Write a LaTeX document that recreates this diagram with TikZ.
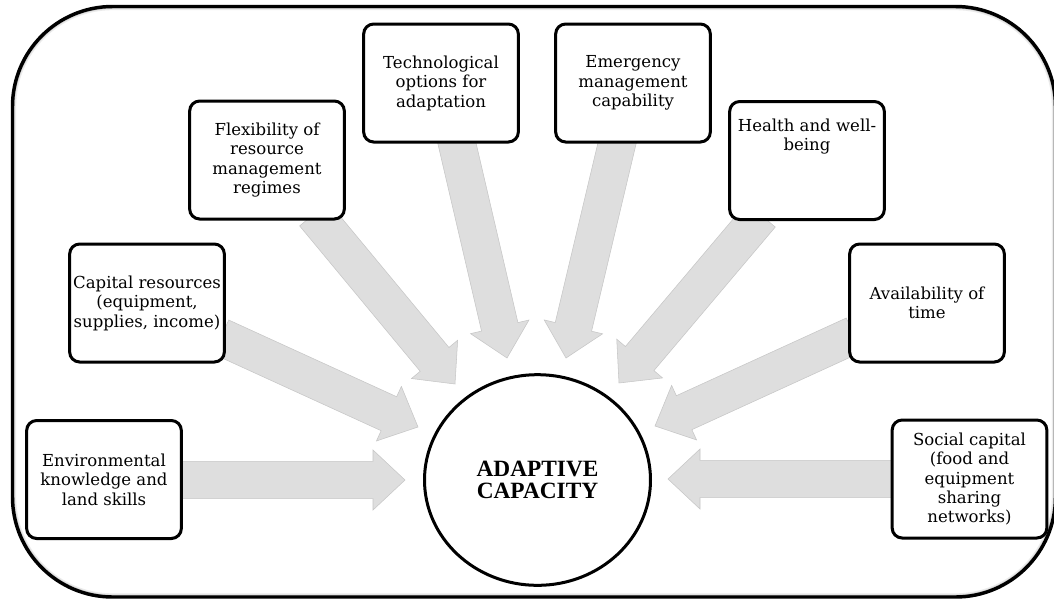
\documentclass[tikz,border=0pt]{standalone}
\usepackage{fontspec}
\setmainfont{DejaVu Serif}
\newfontfamily\titlefont{Liberation Serif}
\usetikzlibrary{calc,shapes.geometric}

\definecolor{arrowgray}{HTML}{DEDEDE}
\definecolor{arrowedge}{HTML}{C6C6C6}
\definecolor{glowgray}{HTML}{D2D2D2}

\tikzset{
  factor/.style={draw=black, line width=2.25pt, rounded corners=7.5pt, fill=white,
    minimum width=116pt, minimum height=88.5pt, align=center, inner sep=2pt,
    font=\fontsize{12.4}{14.6}\selectfont},
  factortext/.style={align=center, inner sep=0pt, font=\fontsize{12.4}{14.6}\selectfont},
  hub/.style={ellipse, draw=black, line width=2.25pt, fill=white, inner sep=0pt,
    minimum width=169.5pt, minimum height=158pt, align=center,
    font=\titlefont\bfseries\fontsize{17.5}{16.5}\selectfont},
  flowarrow/.style={fill=arrowgray, draw=arrowedge, line width=0.4pt, line join=miter},
  frame/.style={draw=black, line width=2.6pt, rounded corners=75pt, fill=white}
}

% wide block arrow from a tail point to a tip point
\newcommand\factorarrow[2]{%
  \coordinate (fa-base) at ($(#2)!24pt!(#1)$);
  \draw[flowarrow] ($(#1)!14pt!90:(#2)$) -- ($(fa-base)!14pt!90:(#2)$)
    -- ($(fa-base)!22.5pt!90:(#2)$) -- (#2) -- ($(fa-base)!22.5pt!-90:(#2)$)
    -- ($(fa-base)!14pt!-90:(#2)$) -- ($(#1)!14pt!-90:(#2)$) -- cycle;}

\begin{document}
\begin{tikzpicture}[x=0.75pt, y=-0.75pt]
\useasboundingbox (0,0) rectangle (1054,601);

% outer frame with a soft inner glow
\path[frame, draw=none] (12.5,6.5) rectangle (1055.5,597);
\begin{scope}
  \clip[rounded corners=75pt] (12.5,6.5) rectangle (1055.5,597);
  \draw[glowgray!45, line width=5.5pt, rounded corners=75pt] (12.5,6.5) rectangle (1055.5,597);
  \draw[glowgray, line width=3.6pt, rounded corners=75pt] (12.5,6.5) rectangle (1055.5,597);
\end{scope}
\draw[frame, fill=none] (12.5,6.5) rectangle (1055.5,597);

% arrow tails and tips
\coordinate (env-tail)    at (178,480);  \coordinate (env-tip)    at (405,480);
\coordinate (cap-tail)    at (221,337);  \coordinate (cap-tip)    at (418,427);
\coordinate (flex-tail)   at (314,214);  \coordinate (flex-tip)   at (455,384);
\coordinate (tech-tail)   at (455,135);  \coordinate (tech-tip)   at (507,358);
\coordinate (emerg-tail)  at (619,135);  \coordinate (emerg-tip)  at (566,358);
\coordinate (health-tail) at (761,215);  \coordinate (health-tip) at (619,383);
\coordinate (avail-tail)  at (854,335);  \coordinate (avail-tip)  at (655,426);
\coordinate (social-tail) at (896,479);  \coordinate (social-tip) at (668,479);

\factorarrow{env-tail}{env-tip}
\factorarrow{cap-tail}{cap-tip}
\factorarrow{flex-tail}{flex-tip}
\factorarrow{tech-tail}{tech-tip}
\factorarrow{emerg-tail}{emerg-tip}
\factorarrow{health-tail}{health-tip}
\factorarrow{avail-tail}{avail-tip}
\factorarrow{social-tail}{social-tip}

% factor boxes
\node[factor] (env)    at (104,479.5) {Environmental\\knowledge and\\land skills};
\node[factor] (cap)    at (147,303)   {Capital resources\\(equipment,\\supplies, income)};
\node[factor] (flex)   at (267,160)   {Flexibility of\\resource\\management\\regimes};
\node[factor] (tech)   at (441,83)    {Technological\\options for\\adaptation};
\node[factor] (emerg)  at (633,83)    {Emergency\\management\\capability};
\node[factor] (health) at (807,160.5) {};
\node[factortext] (health-text) at ($(health.center)+(0,-24)$) {Health and well-\\being};
\node[factor] (avail)  at (927,303)   {Availability of\\time};
\node[factor] (social) at (969.5,479) {Social capital\\(food and\\equipment\\sharing\\networks)};

% central hub
\node[hub] (ac) at (537.5,480) {ADAPTIVE\\CAPACITY};
\end{tikzpicture}
\end{document}
